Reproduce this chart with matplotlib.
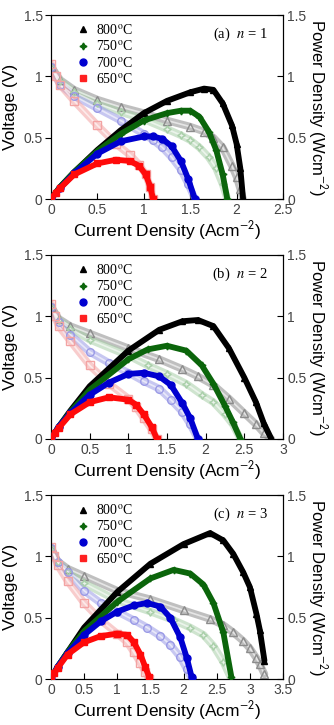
import numpy as np
import matplotlib
matplotlib.use("Agg")
import matplotlib.pyplot as plt
from matplotlib.ticker import FormatStrFormatter
from matplotlib.lines import Line2D

plt.rcParams['font.family'] = ['Liberation Sans', 'DejaVu Sans']
plt.rcParams['mathtext.fontset'] = 'stix'

# ---- data: current density (A/cm2), voltage (V), power density (W/cm2)
# panel (a) n = 1
I_a_800 = [0, 0.1, 0.25, 0.5, 0.75, 1.0, 1.25, 1.5, 1.65, 1.75, 1.85, 1.95, 2.0, 2.04, 2.07]
V_a_800 = [1.08, 0.97, 0.89, 0.81, 0.75, 0.70, 0.64, 0.59, 0.55, 0.50, 0.42, 0.27, 0.18, 0.08, 0.0]
P_a_800 = [0, 0.10, 0.22, 0.40, 0.56, 0.70, 0.80, 0.87, 0.90, 0.89, 0.78, 0.60, 0.45, 0.25, 0.0]
I_a_750 = [0, 0.1, 0.25, 0.5, 0.75, 1.0, 1.25, 1.4, 1.5, 1.6, 1.7, 1.78, 1.85, 1.9]
V_a_750 = [1.08, 0.96, 0.87, 0.78, 0.71, 0.65, 0.57, 0.52, 0.48, 0.42, 0.34, 0.25, 0.12, 0.0]
P_a_750 = [0, 0.10, 0.22, 0.39, 0.53, 0.64, 0.70, 0.72, 0.72, 0.67, 0.55, 0.40, 0.20, 0.0]
I_a_700 = [0, 0.1, 0.25, 0.5, 0.75, 1.0, 1.1, 1.2, 1.3, 1.4, 1.48, 1.55]
V_a_700 = [1.08, 0.93, 0.84, 0.74, 0.64, 0.53, 0.48, 0.42, 0.34, 0.24, 0.12, 0.0]
P_a_700 = [0, 0.09, 0.21, 0.37, 0.47, 0.51, 0.51, 0.49, 0.43, 0.31, 0.16, 0.0]
I_a_650 = [0, 0.05, 0.1, 0.25, 0.5, 0.7, 0.85, 0.95, 1.02, 1.07, 1.1]
V_a_650 = [1.1, 1.0, 0.93, 0.8, 0.6, 0.45, 0.36, 0.28, 0.2, 0.1, 0.0]
P_a_650 = [0, 0.05, 0.09, 0.2, 0.29, 0.32, 0.31, 0.27, 0.2, 0.1, 0.0]

# panel (b) n = 2
I_b_800 = [0, 0.1, 0.25, 0.5, 1.0, 1.4, 1.7, 1.9, 2.1, 2.3, 2.5, 2.65, 2.75, 2.85]
V_b_800 = [1.08, 0.98, 0.92, 0.86, 0.74, 0.65, 0.57, 0.51, 0.44, 0.33, 0.21, 0.12, 0.05, 0.0]
P_b_800 = [0, 0.10, 0.23, 0.43, 0.72, 0.89, 0.96, 0.97, 0.92, 0.74, 0.50, 0.30, 0.13, 0.0]
I_b_750 = [0, 0.1, 0.25, 0.5, 1.0, 1.25, 1.5, 1.75, 1.95, 2.1, 2.25, 2.35, 2.45]
V_b_750 = [1.08, 0.97, 0.9, 0.81, 0.68, 0.6, 0.53, 0.45, 0.36, 0.3, 0.2, 0.12, 0.0]
P_b_750 = [0, 0.10, 0.22, 0.40, 0.65, 0.73, 0.76, 0.72, 0.60, 0.45, 0.27, 0.14, 0.0]
I_b_700 = [0, 0.1, 0.25, 0.5, 0.75, 1.0, 1.2, 1.4, 1.55, 1.7, 1.8, 1.9]
V_b_700 = [1.08, 0.95, 0.85, 0.71, 0.62, 0.54, 0.47, 0.41, 0.32, 0.22, 0.12, 0.0]
P_b_700 = [0, 0.10, 0.21, 0.36, 0.46, 0.53, 0.54, 0.51, 0.44, 0.29, 0.17, 0.0]
I_b_650 = [0, 0.05, 0.1, 0.25, 0.5, 0.75, 1.0, 1.1, 1.2, 1.3, 1.37]
V_b_650 = [1.1, 1.0, 0.92, 0.8, 0.6, 0.45, 0.33, 0.26, 0.17, 0.08, 0.0]
P_b_650 = [0, 0.05, 0.09, 0.2, 0.3, 0.34, 0.32, 0.28, 0.2, 0.1, 0.0]

# panel (c) n = 3
I_c_800 = [0, 0.1, 0.25, 0.5, 1.0, 1.5, 2.0, 2.4, 2.6, 2.75, 2.9, 3.0, 3.1, 3.15, 3.22]
V_c_800 = [1.07, 0.96, 0.9, 0.84, 0.72, 0.65, 0.56, 0.49, 0.44, 0.38, 0.31, 0.25, 0.17, 0.12, 0.04]
P_c_800 = [0, 0.10, 0.22, 0.42, 0.71, 0.94, 1.10, 1.19, 1.13, 1.02, 0.87, 0.75, 0.53, 0.40, 0.15]
I_c_750 = [0, 0.1, 0.25, 0.5, 1.0, 1.5, 1.85, 2.1, 2.3, 2.45, 2.6, 2.72]
V_c_750 = [1.07, 0.95, 0.88, 0.78, 0.64, 0.55, 0.48, 0.42, 0.36, 0.27, 0.14, 0.0]
P_c_750 = [0, 0.10, 0.22, 0.39, 0.63, 0.82, 0.89, 0.86, 0.77, 0.62, 0.38, 0.02]
I_c_700 = [0, 0.1, 0.25, 0.5, 0.75, 1.0, 1.25, 1.45, 1.65, 1.8, 1.95, 2.05, 2.12]
V_c_700 = [1.07, 0.95, 0.87, 0.72, 0.62, 0.55, 0.48, 0.42, 0.35, 0.28, 0.18, 0.08, 0.0]
P_c_700 = [0, 0.10, 0.21, 0.36, 0.47, 0.55, 0.60, 0.62, 0.59, 0.50, 0.34, 0.17, 0.02]
I_c_650 = [0, 0.05, 0.1, 0.25, 0.5, 0.75, 1.0, 1.15, 1.25, 1.35, 1.42, 1.48]
V_c_650 = [1.08, 1.0, 0.93, 0.8, 0.62, 0.48, 0.37, 0.3, 0.22, 0.13, 0.06, 0.0]
P_c_650 = [0, 0.05, 0.09, 0.2, 0.3, 0.35, 0.37, 0.36, 0.3, 0.2, 0.1, 0.02]

temps = ['800', '750', '700', '650']
panel_labels = ['(a)', '(b)', '(c)']
n_values = [1, 2, 3]
x_max = [2.5, 3.0, 3.5]

# styles: dark colour for power, light colour for voltage, marker per temperature
dark = ['#000000', '#0b650b', '#0000d0', '#ff0a0a']
light = ['#8c8c8c', '#a9cfa9', '#9a9ae6', '#f3a3a3']
markers = ['^', (4, 1, 0), 'o', 's']

panels = [
    [(I_a_800, V_a_800, P_a_800), (I_a_750, V_a_750, P_a_750),
     (I_a_700, V_a_700, P_a_700), (I_a_650, V_a_650, P_a_650)],
    [(I_b_800, V_b_800, P_b_800), (I_b_750, V_b_750, P_b_750),
     (I_b_700, V_b_700, P_b_700), (I_b_650, V_b_650, P_b_650)],
    [(I_c_800, V_c_800, P_c_800), (I_c_750, V_c_750, P_c_750),
     (I_c_700, V_c_700, P_c_700), (I_c_650, V_c_650, P_c_650)],
]

fig = plt.figure(figsize=(3.34, 7.25), dpi=100)
bottoms = [0.7255, 0.3945, 0.0634]

for k, series in enumerate(panels):
    ax = fig.add_axes([0.1527, bottoms[k], 0.6946, 0.2538])
    ax2 = ax.twinx()

    # voltage curves (light, hollow) on left axis
    for j, (cur, volt, pw) in enumerate(series):
        ax.plot(cur, volt, '-', color=light[j], lw=5.5, alpha=0.55,
                solid_capstyle='round', zorder=2)
        ax.plot(cur, volt, '-', color='white', lw=1.2, alpha=0.6, zorder=2.5)
        ax.plot(cur, volt, linestyle='none', marker=markers[j], ms=5.5,
                mfc='none', mec=light[j], mew=1.0, zorder=3)

    # power curves (dark, filled) on right axis
    for j, (cur, volt, pw) in enumerate(series):
        ax2.plot(cur, pw, '-', color=dark[j], lw=4.2,
                 solid_capstyle='round', zorder=2 + j)
        ax2.plot(cur, pw, linestyle='none', marker=markers[j], ms=5,
                 color=dark[j], zorder=2 + j)

    for a in (ax, ax2):
        a.set_ylim(0, 1.5)
        a.set_yticks([0, 0.5, 1, 1.5])
        a.yaxis.set_major_formatter(FormatStrFormatter('%g'))
    ax.set_xlim(0, x_max[k])
    ax.set_xticks(np.arange(0, x_max[k] + 0.01, 0.5))
    ax.xaxis.set_major_formatter(FormatStrFormatter('%g'))

    ax.tick_params(axis='y', direction='out', length=4, labelsize=10,
                   labelcolor='#444444', pad=2)
    ax.tick_params(axis='x', direction='in', length=4, labelsize=10,
                   labelcolor='#444444', pad=3)
    ax2.tick_params(axis='y', direction='in', length=4, labelsize=10,
                    labelcolor='#444444', pad=3)

    ax.set_xlabel('Current Density (Acm$^{\\mathsf{-2}}$)', fontsize=12.5,
                  labelpad=1)
    ax.set_ylabel('Voltage (V)', fontsize=12.5, labelpad=4)
    ax2.set_ylabel('Power Density (Wcm$^{\\mathsf{-2}}$)', fontsize=12,
                   rotation=-90, labelpad=16)

    ax.text(0.935, 0.895, panel_labels[k] + '  $n$ = %d' % n_values[k],
            transform=ax.transAxes, ha='right', va='center',
            fontsize=10.5, family='Liberation Serif')

    handles = [Line2D([], [], linestyle='none', marker=markers[j], ms=5,
                      color=dark[j] if j < 3 else '#ff2020')
               for j in range(4)]
    labels = [t + '$^{\\rm o}$C' for t in temps]
    ax2.legend(handles, labels, loc='upper left', bbox_to_anchor=(0.07, 1.0),
               frameon=False, handlelength=1.0, handletextpad=0.45,
               labelspacing=0.15, borderaxespad=0.2,
               prop={'family': 'Liberation Serif', 'size': 10})

fig.savefig('out.png', dpi=100)
